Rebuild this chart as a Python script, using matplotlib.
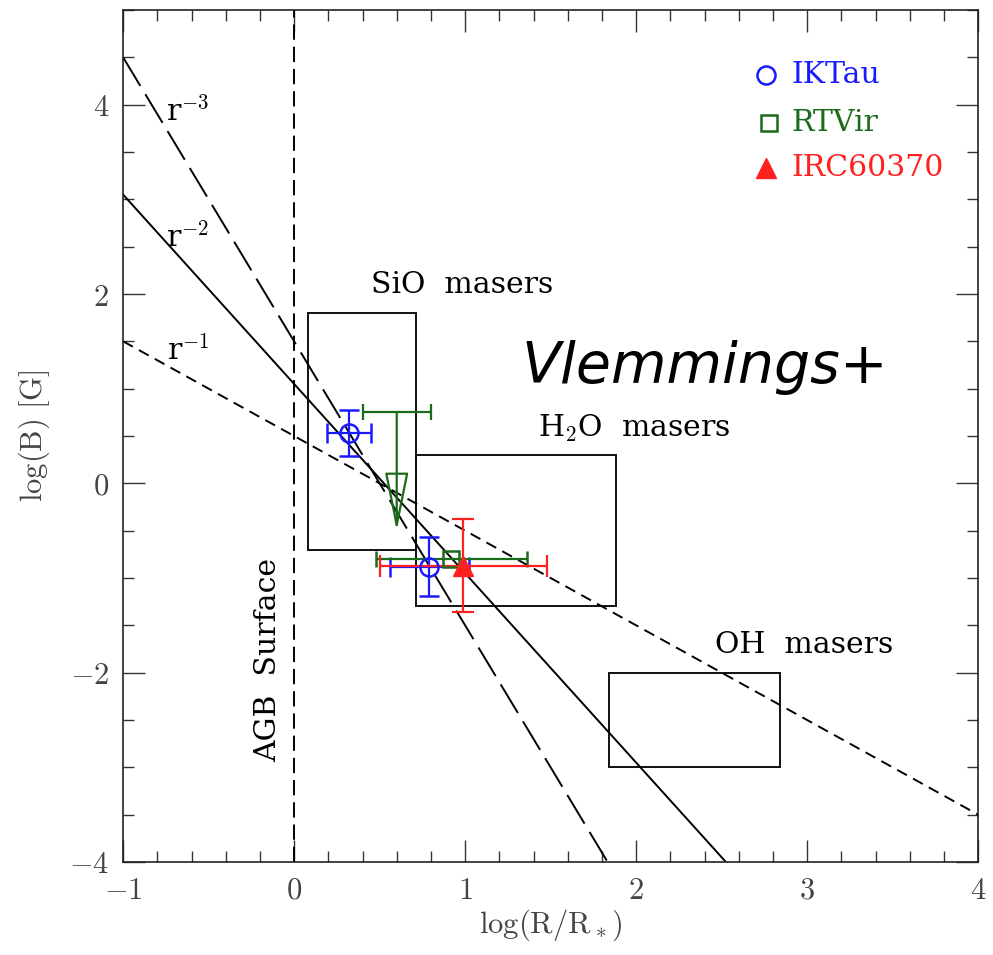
import numpy as np
import matplotlib
matplotlib.use("Agg")
import matplotlib.pyplot as plt
from matplotlib.patches import Rectangle
from matplotlib.ticker import FuncFormatter

plt.rcParams["mathtext.fontset"] = "cm"
plt.rcParams["lines.scale_dashes"] = False

# power-law field models: log B = b0 + slope * log(R/R*)
law_names = ["r$^{-1}$", "r$^{-2}$", "r$^{-3}$"]
law_slopes = [-1, -2, -3]
law_b0 = [0.5, 1.05, 1.5]

# maser regions (x range, y range)
box_names = ["SiO  masers", "H$_2$O  masers", "OH  masers"]
box_x = [(0.08, 0.71), (0.71, 1.88), (1.84, 2.84)]
box_y = [(-0.7, 1.8), (-1.3, 0.3), (-3.0, -2.0)]

# measurements
ik_x = [0.32, 0.79]
ik_y = [0.53, -0.88]
ik_xerr = [0.13, 0.23]
ik_yerr = [0.24, 0.31]

rt_x = [0.92]
rt_y = [-0.8]
rt_xerr = [0.44]
# RT Vir upper limit
rt_lim_x = 0.6
rt_lim_xerr = 0.2
rt_lim_top = 0.75
rt_lim_tip = -0.5

irc_x = [0.99]
irc_y = [-0.87]
irc_xerr = [0.49]
irc_yerr = [0.49]

blue = "#1a1aff"
green = "#1a6b1a"
red = "#ff2020"

fig = plt.figure(figsize=(9.93, 9.55), dpi=100)
ax = fig.add_axes([0.124, 0.0974, 0.861, 0.8921])
ax.set_xlim(-1, 4)
ax.set_ylim(-4, 5)

# model lines
xx = np.array([-1.0, 4.0])
styles = [dict(dashes=(8, 5)), dict(linestyle="-"), dict(dashes=(24, 7))]
for s, b0, st in zip(law_slopes, law_b0, styles):
    ax.plot(xx, b0 + s * xx, color="k", lw=1.4, **st)

ax.axvline(0, color="k", lw=1.4, dashes=(11, 5))

for (x0, x1), (y0, y1) in zip(box_x, box_y):
    ax.add_patch(Rectangle((x0, y0), x1 - x0, y1 - y0, fill=False,
                           ec="#111111", lw=1.4))

ax.errorbar(ik_x, ik_y, xerr=ik_xerr, yerr=ik_yerr, fmt="o", mfc="none",
            mec=blue, ecolor=blue, ms=13, mew=1.8, elinewidth=1.6,
            capsize=7, capthick=1.6)
ax.errorbar(rt_x, rt_y, xerr=rt_xerr, fmt="s", mfc="none", mec=green,
            ecolor=green, ms=11, mew=1.8, elinewidth=1.6, capsize=6,
            capthick=1.6)
ax.errorbar([rt_lim_x], [rt_lim_top], xerr=[rt_lim_xerr], fmt="none",
            ecolor=green, elinewidth=1.6, capsize=6, capthick=1.6)
ax.annotate("", xy=(rt_lim_x, rt_lim_tip), xytext=(rt_lim_x, rt_lim_top),
            arrowprops=dict(arrowstyle="-|>,head_length=3.7,head_width=0.75",
                            color=green, fc="none", lw=1.6,
                            shrinkA=0, shrinkB=0))
ax.errorbar(irc_x, irc_y, xerr=irc_xerr, yerr=irc_yerr, fmt="^", color=red,
            ms=14, elinewidth=1.6, capsize=8, capthick=1.6)

# legend drawn by hand
leg_x = 2.76
ax.plot([leg_x], [4.31], "o", mfc="none", mec=blue, ms=13, mew=1.8)
ax.plot([leg_x + 0.02], [3.81], "s", mfc="none", mec=green, ms=11, mew=1.8)
ax.plot([leg_x], [3.33], "^", color=red, ms=15)
tfont = dict(family="DejaVu Serif", fontsize=21.5)
ax.text(2.91, 4.31, "IKTau", color=blue, va="center", **tfont)
ax.text(2.91, 3.81, "RTVir", color=green, va="center", **tfont)
ax.text(2.91, 3.33, "IRC60370", color=red, va="center", **tfont)

# annotations
lab = dict(family="DejaVu Serif", fontsize=21.5, ha="center", va="center")
ax.text(-0.62, 3.93, law_names[2], **lab)
ax.text(-0.62, 2.6, law_names[1], **lab)
ax.text(-0.62, 1.4, law_names[0], **lab)
ax.text(0.98, 2.09, box_names[0], **lab)
ax.text(1.99, 0.58, box_names[1], **lab)
ax.text(2.98, -1.71, box_names[2], **lab)
ax.text(-0.15, -1.87, "AGB  Surface", rotation=90, **lab)
ax.text(2.4, 1.22, "Vlemmings+", family="DejaVu Sans", style="italic",
        fontsize=41, ha="center", va="center")

ax.set_xticks(np.arange(-1, 4.01, 1))
ax.set_xticks(np.arange(-1, 4.01, 0.2), minor=True)
ax.set_yticks(np.arange(-4, 4.01, 2))
ax.set_yticks(np.arange(-4, 5.01, 0.5), minor=True)
cm_fmt = FuncFormatter(lambda v, pos: r"$%d$" % round(v))
ax.xaxis.set_major_formatter(cm_fmt)
ax.yaxis.set_major_formatter(cm_fmt)
ax.tick_params(which="both", direction="in", top=True, right=True,
               labelsize=22, width=1.0, colors="#333333", labelcolor="#444444")
ax.tick_params(which="major", length=16, pad=10)
ax.tick_params(which="minor", length=8)
for sp in ax.spines.values():
    sp.set_linewidth(1.2)
    sp.set_color("#222222")

ax.set_xlabel(r"$\mathrm{log(R/R_*)}$", fontsize=22, color="#444444", labelpad=2)
ax.set_ylabel(r"$\mathrm{log(B)\ [G]}$", fontsize=22, color="#444444", labelpad=12)

fig.savefig("out.png", dpi=100)
